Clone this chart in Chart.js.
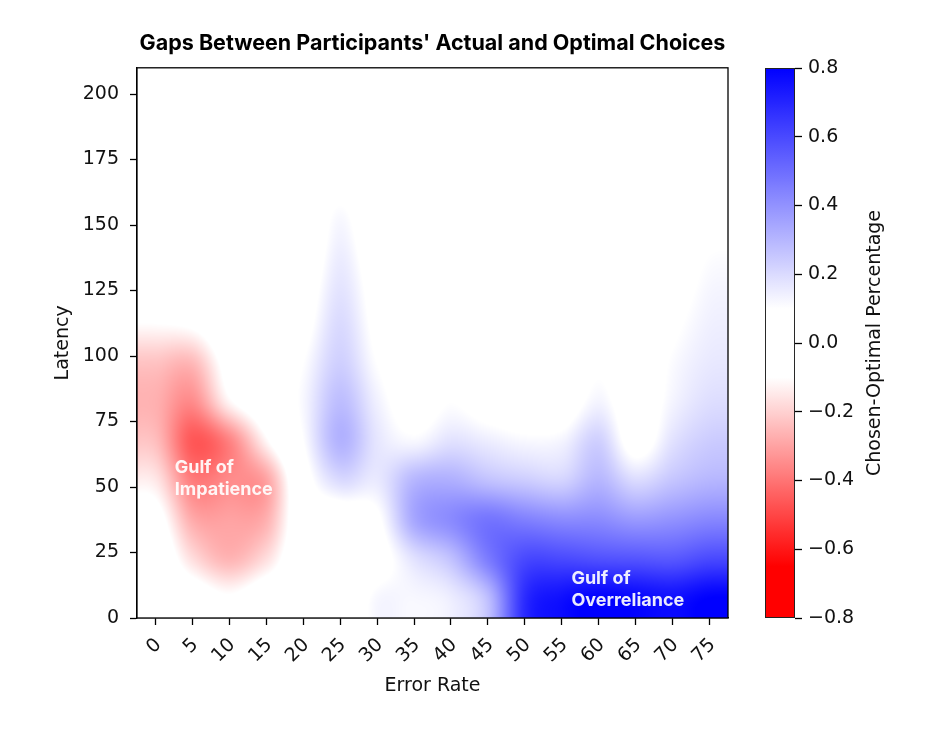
<!DOCTYPE html>
<html lang="en">
<head>
  <meta charset="UTF-8">
  <title>Gaps Between Participants' Actual and Optimal Choices</title>
  <script src="https://cdn.jsdelivr.net/npm/chart.js"></script>
  <style>
    body {
      margin: 0;
      padding: 0;
      background: #fff;
    }
    .wrap {
      position: relative;
      width: 942px;
      height: 745px;
    }
    .wrap canvas {
      position: absolute;
      left: 0;
      top: 0;
    }
  </style>
</head>
<body>
  <div class="wrap">
    <canvas id="heatChart" width="942" height="745"></canvas>
    <canvas id="barChart" width="942" height="745"></canvas>
  </div>

  <script>
    // Error rate columns (cell centres) and latency rows (cell centres, bottom to top)
    const errorRates = [0, 5, 10, 15, 20, 25, 30, 35, 40, 45, 50, 55, 60, 65, 70, 75];
    const latencyCenters = [7.5, 22.5, 37.5, 52.5, 67.5, 82.5, 97.5, 112.5, 127.5, 142.5, 157.5, 172.5, 187.5, 202.5];
    const latencyTicks = [0, 25, 50, 75, 100, 125, 150, 175, 200];
    const colorTicks = [-0.8, -0.6, -0.4, -0.2, 0, 0.2, 0.4, 0.6, 0.8];

    // chosen - optimal percentage, one row per latency cell (bottom row first)
    const gapRows = [
      [0, -0.03, -0.09, -0.02, 0, 0, 0.12, 0.12, 0.15, 0.28, 0.68, 0.76, 0.8, 0.78, 0.76, 0.8],
      [0, -0.17, -0.26, -0.17, 0, 0, 0.05, 0.18, 0.27, 0.46, 0.6, 0.6, 0.58, 0.57, 0.56, 0.6],
      [-0.05, -0.28, -0.3, -0.27, 0, 0.02, 0.08, 0.34, 0.42, 0.48, 0.45, 0.42, 0.42, 0.38, 0.4, 0.43],
      [-0.15, -0.38, -0.35, -0.3, 0.04, 0.2, 0.16, 0.3, 0.32, 0.27, 0.24, 0.22, 0.3, 0.2, 0.26, 0.3],
      [-0.24, -0.46, -0.37, -0.12, 0.1, 0.31, 0.17, 0.12, 0.18, 0.15, 0.12, 0.13, 0.23, 0.05, 0.18, 0.24],
      [-0.27, -0.35, -0.12, 0, 0.12, 0.28, 0.14, 0.05, 0.1, 0.05, 0.03, 0.03, 0.13, 0.03, 0.13, 0.19],
      [-0.23, -0.25, -0.05, 0, 0.1, 0.23, 0.1, 0.03, 0.09, 0.02, 0.02, 0.02, 0.08, 0.02, 0.11, 0.16],
      [-0.1, -0.08, 0, 0, 0.06, 0.2, 0.07, 0, 0.02, 0, 0, 0, 0, 0, 0.08, 0.14],
      [0, 0, 0, 0, 0.03, 0.17, 0.05, 0, 0, 0, 0, 0, 0, 0, 0.05, 0.12],
      [0, 0, 0, 0, 0, 0.14, 0.02, 0, 0, 0, 0, 0, 0, 0, 0.03, 0.09],
      [0, 0, 0, 0, 0, 0.1, 0, 0, 0, 0, 0, 0, 0, 0, 0, 0.03],
      [0, 0, 0, 0, 0, 0, 0, 0, 0, 0, 0, 0, 0, 0, 0, 0],
      [0, 0, 0, 0, 0, 0, 0, 0, 0, 0, 0, 0, 0, 0, 0, 0],
      [0, 0, 0, 0, 0, 0, 0, 0, 0, 0, 0, 0, 0, 0, 0, 0]
    ];

    const notes = [
      { lines: ['Gulf of', 'Impatience'], x: 2.6, y: 57.5 },
      { lines: ['Gulf of', 'Overreliance'], x: 56.3, y: 15.2 }
    ];

    Chart.defaults.font.family = "'DejaVu Sans', sans-serif";
    Chart.defaults.color = '#111';

    // red - white - blue, with a white band around zero
    function gapColor(v) {
      if (v >= 0) {
        const t = Math.min(Math.max((v - 0.1) / 0.7, 0), 1);
        return [255 * (1 - t), 255 * (1 - t), 255];
      }
      const t = Math.min(Math.max((-v - 0.1) / 0.55, 0), 1);
      return [255, 255 * (1 - t), 255 * (1 - t)];
    }

    function cubicWeight(t) {
      const a = -0.5;
      t = Math.abs(t);
      if (t <= 1) return (a + 2) * t * t * t - (a + 3) * t * t + 1;
      if (t < 2) return a * t * t * t - 5 * a * t * t + 8 * a * t - 4 * a;
      return 0;
    }

    function bicubic(grid, gx, gy) {
      const rows = grid.length, cols = grid[0].length;
      const ix = Math.floor(gx), iy = Math.floor(gy);
      let s = 0;
      for (let m = -1; m <= 2; m++) {
        const wy = cubicWeight(gy - (iy + m));
        const r = Math.min(Math.max(iy + m, 0), rows - 1);
        for (let n = -1; n <= 2; n++) {
          const wx = cubicWeight(gx - (ix + n));
          const c = Math.min(Math.max(ix + n, 0), cols - 1);
          s += wx * wy * grid[r][c];
        }
      }
      return s;
    }

    // paints the smoothed cells into the plot area using the chart scales
    const heatmapPlugin = {
      id: 'heatmap',
      beforeDatasetsDraw(chart) {
        const { ctx, scales: { x, y } } = chart;
        const dx = errorRates[1] - errorRates[0];
        const dy = latencyCenters[1] - latencyCenters[0];
        const left = Math.round(x.getPixelForValue(errorRates[0] - dx / 2));
        const right = Math.round(x.getPixelForValue(errorRates[errorRates.length - 1] + dx / 2));
        const top = Math.round(y.getPixelForValue(latencyCenters[latencyCenters.length - 1] + dy / 2));
        const bottom = Math.round(y.getPixelForValue(latencyCenters[0] - dy / 2));
        const w = right - left, h = bottom - top;
        const img = ctx.createImageData(w, h);
        for (let j = 0; j < h; j++) {
          const gy = (y.getValueForPixel(top + j + 0.5) - latencyCenters[0]) / dy;
          for (let i = 0; i < w; i++) {
            const gx = (x.getValueForPixel(left + i + 0.5) - errorRates[0]) / dx;
            const c = gapColor(bicubic(gapRows, gx, gy));
            const k = (j * w + i) * 4;
            img.data[k] = c[0];
            img.data[k + 1] = c[1];
            img.data[k + 2] = c[2];
            img.data[k + 3] = 255;
          }
        }
        ctx.putImageData(img, left, top);
      },
      afterDatasetsDraw(chart) {
        const { ctx, chartArea: a, scales: { x, y } } = chart;
        ctx.save();
        ctx.strokeStyle = '#000';
        ctx.lineWidth = 1.3;
        ctx.strokeRect(a.left, a.top, a.right - a.left, a.bottom - a.top);

        ctx.fillStyle = 'rgba(255, 255, 255, 0.92)';
        ctx.font = "bold 18px 'Inter', sans-serif";
        ctx.textAlign = 'left';
        ctx.textBaseline = 'middle';
        notes.forEach(n => {
          const px = x.getPixelForValue(n.x);
          const py = y.getPixelForValue(n.y);
          n.lines.forEach((line, i) => ctx.fillText(line, px, py + i * 22.5));
        });
        ctx.restore();
      }
    };

    const cells = [];
    gapRows.forEach((row, r) => row.forEach((v, c) => cells.push({ x: errorRates[c], y: latencyCenters[r], v: v })));

    new Chart(document.getElementById('heatChart'), {
      type: 'scatter',
      data: {
        datasets: [{ data: cells, pointRadius: 0, pointHoverRadius: 0 }]
      },
      options: {
        responsive: false,
        animation: false,
        devicePixelRatio: 1,
        events: [],
        layout: { padding: { left: 0, right: 214, top: 0, bottom: 0 } },
        plugins: {
          legend: { display: false },
          tooltip: { enabled: false },
          title: {
            display: true,
            fullSize: false,
            text: "Gaps Between Participants' Actual and Optimal Choices",
            color: '#000',
            font: { family: "'Inter', sans-serif", size: 21.5, weight: 'bold' },
            padding: { top: 31, bottom: 11 }
          }
        },
        scales: {
          x: {
            type: 'linear',
            bounds: 'data',
            min: -2.5,
            max: 77.5,
            afterBuildTicks: s => { s.ticks = errorRates.map(v => ({ value: v })); },
            afterFit: s => { s.height = 127; },
            ticks: { minRotation: 45, maxRotation: 45, autoSkip: false, labelOffset: 3, padding: 9, font: { size: 19 } },
            grid: { drawOnChartArea: false, drawTicks: true, tickLength: 7, tickColor: '#000', tickWidth: 1.3 },
            border: { display: true, color: '#000', width: 1.3 },
            title: { display: true, text: 'Error Rate', color: '#111', font: { size: 19 }, padding: { top: 0, bottom: 47.6 } }
          },
          y: {
            type: 'linear',
            bounds: 'data',
            min: 0,
            max: 210,
            afterBuildTicks: s => { s.ticks = latencyTicks.map(v => ({ value: v })); },
            afterFit: s => { s.width = 137; },
            ticks: { padding: 11, font: { size: 19 } },
            grid: { drawOnChartArea: false, drawTicks: true, tickLength: 7, tickColor: '#000', tickWidth: 1.3 },
            border: { display: true, color: '#000', width: 1.3 },
            title: { display: true, text: 'Latency', color: '#111', font: { size: 19 }, padding: { top: 51.6, bottom: 0 } }
          }
        }
      },
      plugins: [heatmapPlugin]
    });

    // colour bar, drawn as one floating bar with a gradient
    function barGradient(chart) {
      const area = chart.chartArea;
      if (!area) return '#fff';
      const ys = chart.scales.y;
      const g = chart.ctx.createLinearGradient(0, ys.getPixelForValue(-0.8), 0, ys.getPixelForValue(0.8));
      const steps = 64;
      for (let i = 0; i <= steps; i++) {
        const v = -0.8 + 1.6 * i / steps;
        const c = gapColor(v);
        g.addColorStop(i / steps, `rgb(${Math.round(c[0])}, ${Math.round(c[1])}, ${Math.round(c[2])})`);
      }
      return g;
    }

    const barLabelPlugin = {
      id: 'barLabel',
      afterDraw(chart) {
        const { ctx, chartArea: a } = chart;
        ctx.save();
        ctx.translate(875, (a.top + a.bottom) / 2);
        ctx.rotate(-Math.PI / 2);
        ctx.fillStyle = '#111';
        ctx.font = "19px 'DejaVu Sans', sans-serif";
        ctx.textAlign = 'center';
        ctx.textBaseline = 'middle';
        ctx.fillText('Chosen-Optimal Percentage', 0, 0);
        ctx.restore();
      }
    };

    new Chart(document.getElementById('barChart'), {
      type: 'bar',
      data: {
        labels: [''],
        datasets: [{
          data: [[colorTicks[0], colorTicks[colorTicks.length - 1]]],
          backgroundColor: ctx => barGradient(ctx.chart),
          borderColor: '#222',
          borderWidth: 1.3,
          borderSkipped: false,
          barPercentage: 1,
          categoryPercentage: 1
        }]
      },
      options: {
        responsive: false,
        animation: false,
        devicePixelRatio: 1,
        events: [],
        layout: { padding: { left: 765, right: 0, top: 68, bottom: 127 } },
        plugins: {
          legend: { display: false },
          tooltip: { enabled: false }
        },
        scales: {
          x: { display: false },
          y: {
            position: 'right',
            min: -0.8,
            max: 0.8,
            afterBuildTicks: s => { s.ticks = colorTicks.map(v => ({ value: v })); },
            afterFit: s => { s.width = 147; },
            ticks: {
              padding: 6,
              font: { size: 19 },
              callback: v => (Math.abs(v) < 1e-9 ? '0.0' : v.toFixed(1).replace('-', '\u2212'))
            },
            grid: { drawOnChartArea: false, drawTicks: true, tickLength: 7, tickColor: '#000', tickWidth: 1.3 },
            border: { display: false }
          }
        }
      },
      plugins: [barLabelPlugin]
    });
  </script>
</body>
</html>
